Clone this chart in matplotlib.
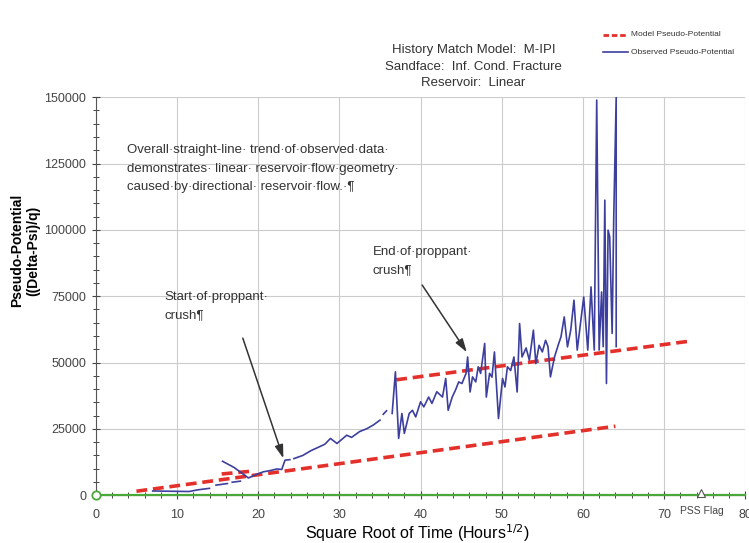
import numpy as np
import matplotlib
matplotlib.use("Agg")
import matplotlib.pyplot as plt
from matplotlib.ticker import MultipleLocator

# model pseudo-potential lines (start, end)
model_low_x = [5, 64]
model_low_y = [1500, 26000]
model_mid_x = [15.5, 19]
model_mid_y = [8000, 9000]
model_high_x = [37, 73]
model_high_y = [43500, 58000]

# observed pseudo-potential, nan = gap in record
obs_x = [7, 9, 11.5, 12.5, 14, np.nan,
         14.8, 16.2, np.nan, 16.8, 17.8, np.nan,
         15.6, 17, 18.8, 19.5, 20.6, 21.5, 22.3, 22.9, 23.3, 23.9, np.nan,
         24.4, 25.5, 26.5, 27.5, 28.2, 28.9, 29.7, 30.9, 31.5, 32.5, 33.4, 34.2, 35, np.nan,
         35.4, 35.8, np.nan,
         36.5, 36.9, 37.3, 37.7, 38.0, 38.6, 39.0, 39.4, 40.0, 40.4, 41.0, 41.4, 42.0,
         42.7, 43.1, 43.4, 43.9, 44.3, 44.7, 45.1, 45.6, 45.8, 46.1, 46.4, 46.8, 47.1,
         47.4, 47.9, 48.1, 48.5, 48.8, 49.1, 49.6, 50.1, 50.4, 50.7, 51.1, 51.5, 51.9,
         52.2, 52.5, 53.0, 53.4, 53.9, 54.2, 54.6, 55.0, 55.4, 55.7, 56.0, 56.5, 57.0,
         57.3, 57.7, 58.1, 58.5, 58.9, 59.3, 60.1, 60.6, 61.0, 61.4, 61.7, 62.0,
         62.3, 62.5, 62.7, 62.9, 63.1, 63.3, 63.6, 63.8, 64.1, 64.1]
obs_y = [1600, 1500, 1400, 2000, 2600, np.nan,
         3800, 4400, np.nan, 4900, 5300, np.nan,
         12800, 10500, 6500, 7500, 8800, 9300, 9900, 9700, 13200, 13400, np.nan,
         13800, 15000, 16800, 18200, 19200, 21400, 19500, 22600, 21800, 24000, 25100, 26500, 28300, np.nan,
         30500, 31800, np.nan,
         30800, 46500, 21400, 30800, 23300, 30800, 32000, 29500, 35200, 33300, 37000, 34600, 39000,
         37000, 44000, 32000, 37000, 39600, 42700, 42100, 45900, 52100, 38900, 44600, 42700, 48400,
         45900, 57200, 37000, 45900, 44500, 54000, 28900, 44000, 40800, 48400, 47000, 52100, 38900,
         64700, 52100, 55500, 50900, 62200, 49600, 56500, 54000, 58400, 56000, 44600, 52100, 57000,
         59700, 67200, 55900, 62200, 73500, 54700, 74700, 54700, 78500, 54700, 148900, 54700,
         76600, 56000, 111200, 42100, 99900, 97400, 61000, 104900, 150000, 56000]

pss_flag_x = 74.6

x_ticks = [0, 10, 20, 30, 40, 50, 60, 70, 80]
x_tick_labels = ["0", "10", "20", "30", "40", "50", "60", "70", "80"]
y_ticks = [0, 25000, 50000, 75000, 100000, 125000, 150000]

plt.rcParams["font.family"] = ["Liberation Sans", "DejaVu Sans"]

fig = plt.figure(figsize=(7.49, 5.43), dpi=100)
ax = fig.add_axes([0.128, 0.088, 0.867, 0.733])

red = "#e3302b"
blue = "#3d3f9e"
green = "#4aa83a"

ax.plot(model_low_x, model_low_y, color=red, lw=2.6, ls=(0, (3, 1.6)), zorder=3)
ax.plot(model_mid_x, model_mid_y, color=red, lw=2.6, ls=(0, (3, 1.6)), zorder=3)
ax.plot(model_high_x, model_high_y, color=red, lw=2.6, ls=(0, (3, 1.6)), zorder=3)
ax.plot(obs_x, obs_y, color=blue, lw=1.2, zorder=4)

ax.axhline(0, color=green, lw=1.6, zorder=5, clip_on=False)
ax.plot([0], [0], marker="o", ms=6, mfc="white", mec=green, mew=1.3, zorder=6, clip_on=False)
ax.plot([pss_flag_x], [700], marker="^", ms=6, mfc="white", mec="#555555", mew=0.8, zorder=6, clip_on=False)
ax.text(pss_flag_x, -4200, "PSS Flag", ha="center", va="top", fontsize=7.5, color="#444444")

ax.set_xlim(0, 80)
ax.set_ylim(0, 150000)
ax.set_xticks(x_ticks)
ax.set_xticklabels(x_tick_labels)
ax.set_yticks(y_ticks)
ax.xaxis.set_minor_locator(MultipleLocator(2))
ax.yaxis.set_minor_locator(MultipleLocator(5000))
ax.tick_params(which="major", direction="inout", length=6, width=0.8, color="#444444",
               labelsize=9, labelcolor="#444444", pad=4)
ax.tick_params(axis="x", which="major", pad=7)
ax.tick_params(which="minor", direction="inout", length=4, width=0.7, color="#444444")
ax.grid(True, which="major", color="#cccccc", lw=0.8)
ax.set_axisbelow(True)
for s in ["top", "right"]:
    ax.spines[s].set_visible(False)
ax.spines["left"].set_color("#555555")
ax.spines["bottom"].set_color("#555555")

ax.set_xlabel("Square Root of Time (Hours$^{1/2}$)", fontsize=11.5)
ax.xaxis.set_label_coords(0.495, -0.068)
ax.set_ylabel("Pseudo-Potential\n((Delta-Psi)/q)", fontsize=10, fontweight="bold",
              linespacing=1.15)
ax.yaxis.set_label_coords(-0.086, 0.615)

# header text and legend
fig.text(0.632, 0.877, "History Match Model:  M-IPI\nSandface:  Inf. Cond. Fracture\nReservoir:  Linear",
         ha="center", va="center", fontsize=9.5, color="#333333", linespacing=1.5)
fig.lines.append(plt.Line2D([0.805, 0.838], [0.936, 0.936], transform=fig.transFigure,
                            color=red, lw=2, ls=(0, (2, 1))))
fig.lines.append(plt.Line2D([0.805, 0.838], [0.904, 0.904], transform=fig.transFigure,
                            color=blue, lw=1.2))
fig.text(0.842, 0.936, "Model Pseudo-Potential", ha="left", va="center", fontsize=6,
         color="#333333")
fig.text(0.842, 0.904, "Observed Pseudo-Potential", ha="left", va="center", fontsize=6,
         color="#333333")

# annotations
ax.text(3.8, 132200,
        "Overall\u00b7straight-line\u00b7 trend\u00b7of\u00b7observed\u00b7data\u00b7\n"
        "demonstrates\u00b7 linear\u00b7 reservoir\u00b7flow\u00b7geometry\u00b7\n"
        "caused\u00b7by\u00b7directional\u00b7 reservoir\u00b7flow.\u00b7\u00b6",
        ha="left", va="top", fontsize=9.5, color="#333333", linespacing=1.68)
ax.text(34.1, 94000, "End\u00b7of\u00b7proppant\u00b7\ncrush\u00b6",
        ha="left", va="top", fontsize=9.5, color="#333333", linespacing=1.68)
ax.text(8.5, 77000, "Start\u00b7of\u00b7proppant\u00b7\ncrush\u00b6",
        ha="left", va="top", fontsize=9.5, color="#333333", linespacing=1.68)
arrow = dict(arrowstyle="-|>,head_length=0.8,head_width=0.25", color="#333333", lw=1.1,
             shrinkA=0, shrinkB=0)
ax.annotate("", xy=(23.1, 13900), xytext=(18.1, 59200), arrowprops=arrow, zorder=7)
ax.annotate("", xy=(45.7, 53900), xytext=(40.2, 79200), arrowprops=arrow, zorder=7)

fig.savefig("out.png", dpi=100)
